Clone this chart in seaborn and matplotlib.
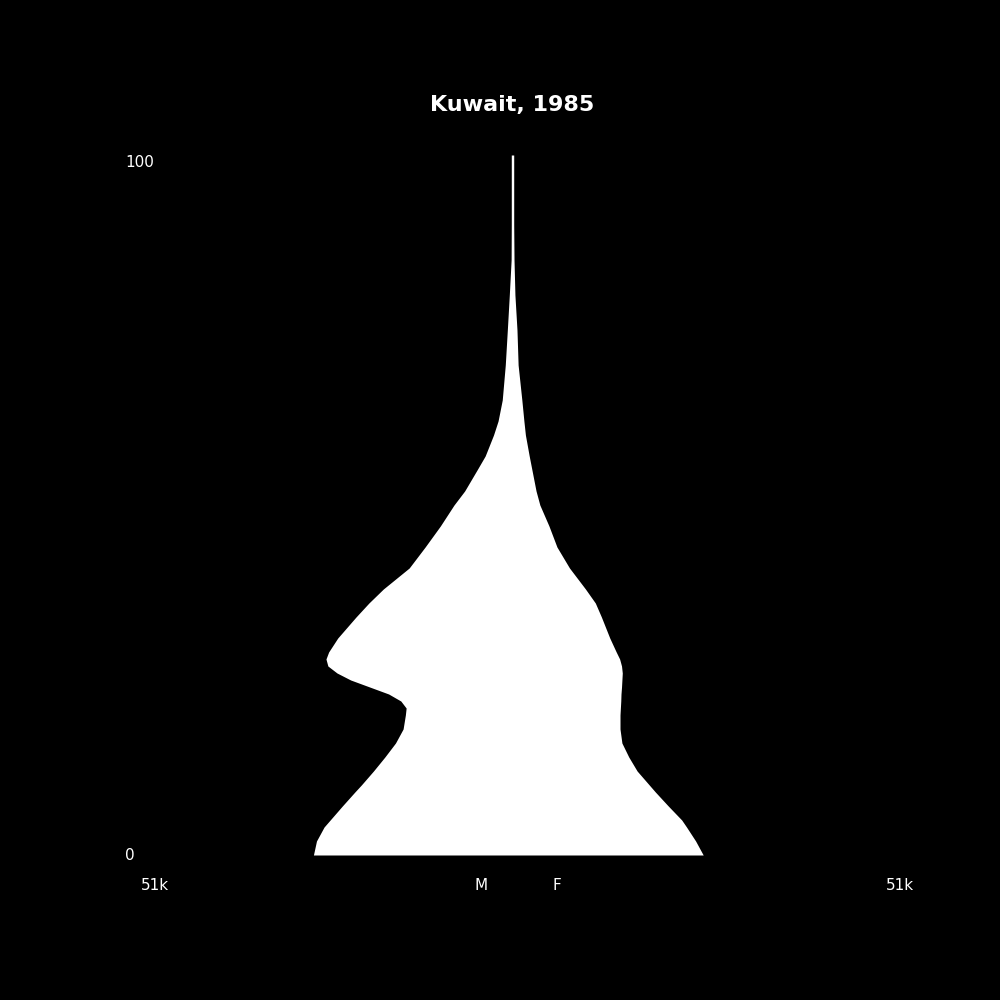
import matplotlib
import matplotlib.pyplot as plt
import numpy as np
import seaborn as sns

matplotlib.use("Agg")

# Age levels, with male / female counts
ages = [0, 2, 4, 5, 7, 9, 10, 12, 14, 16, 18, 20, 21, 22, 23, 24, 25, 26, 27,
        28, 29, 31, 34, 36, 38, 41, 44, 47, 50, 52, 55, 57, 60, 62, 65, 70,
        75, 80, 85, 90, 95, 100]
male = [26200, 25800, 24800, 24000, 22400, 20750, 19900, 18300, 16800, 15400,
        14400, 14100, 14000, 14700, 16300, 18800, 21300, 23100, 24300, 24550,
        24200, 23000, 20600, 18900, 17000, 13600, 11500, 9500, 7700, 6300,
        4670, 3600, 2500, 1900, 1350, 950, 680, 420, 180, 160, 160, 160]
female = [25100, 24100, 22900, 22270, 20500, 18800, 18000, 16400, 15300, 14400,
          14150, 14150, 14200, 14250, 14280, 14350, 14400, 14450, 14350, 14100,
          13650, 12800, 11700, 10900, 9600, 7500, 5850, 4800, 3600, 3100,
          2560, 2200, 1700, 1500, 1230, 740, 590, 320, 200, 160, 160, 160]

title = "Kuwait, 1985"
x_max = 51000
x_label = "51k"

sns.set_theme(style="dark", rc={
    "figure.facecolor": "black",
    "axes.facecolor": "black",
    "text.color": "white",
})
plt.rcParams["font.family"] = ["DejaVu Sans"]

fig = plt.figure(figsize=(10, 10), dpi=100)
ax = fig.add_axes([0.125, 0.145, 0.775, 0.70])

ax.fill_betweenx(ages, -np.array(male), np.array(female),
                 color="white", linewidth=0)
ax.set_xlim(-x_max, x_max)
ax.set_ylim(0, 100)
ax.set_axis_off()

# y labels at the inside left edge
ax.text(0.0, 1.0, "100", transform=ax.transAxes, ha="left", va="top",
        fontsize=11, color="white")
ax.text(0.0, 0.0, "0", transform=ax.transAxes, ha="left", va="center",
        fontsize=11, color="white")

# bottom labels
fig.text(0.155, 0.115, x_label, ha="center", va="center", fontsize=11)
fig.text(0.900, 0.115, x_label, ha="center", va="center", fontsize=11)
fig.text(0.481, 0.115, "M", ha="center", va="center", fontsize=11)
fig.text(0.557, 0.115, "F", ha="center", va="center", fontsize=11)

fig.text(0.512, 0.895, title, ha="center", va="center", fontsize=16,
         fontweight="bold")

fig.savefig("out.png", facecolor="black")
plt.close(fig)
